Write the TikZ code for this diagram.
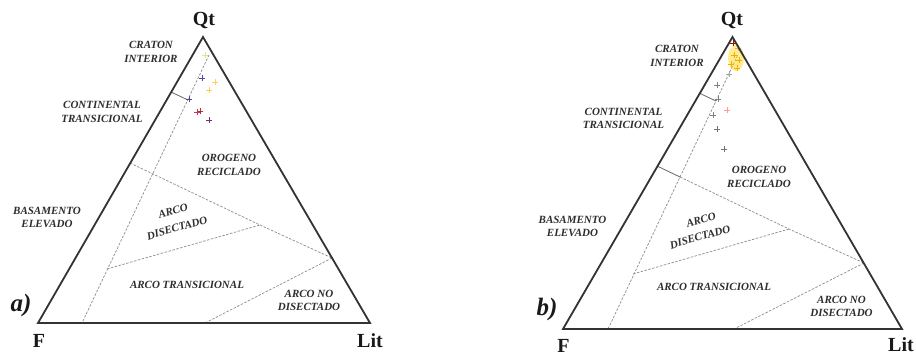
\documentclass[tikz,border=0pt]{standalone}
\usepackage{fontspec}
\setmainfont{Liberation Serif}
\newcommand\pmark[3]{\draw[#3, line width=0.9pt] (#1,#2) +(-3,0) -- +(3,0) +(0,-3) -- +(0,3);}
\begin{document}
\begin{tikzpicture}[x=1pt,y=-1pt,
  edge/.style={line width=1.8pt, draw=black!80, line join=miter},
  bnd/.style={line width=0.7pt, draw=black!45, dash pattern=on 2.5pt off 1.5pt},
  tickline/.style={line width=0.8pt, draw=black!60},
  field/.style={font=\fontsize{11}{13.5}\selectfont\bfseries\itshape, text=black!82, align=center, inner sep=0pt},
  vert/.style={font=\fontsize{20}{22}\selectfont\bfseries, text=black!90, inner sep=0pt},
  panel/.style={font=\fontsize{25}{27}\selectfont\bfseries\itshape, text=black!90, inner sep=0pt},
]
\useasboundingbox (0,0) rectangle (916,356);
\fill[white] (0,0) rectangle (916,356);

% ---------------- panel a ----------------
\coordinate (aF) at (38,323);
\coordinate (aL) at (370,323);
\coordinate (aQ) at (203,37);
\coordinate (aV1) at (209,55);
\coordinate (aV2) at (82,323);
\coordinate (aT1) at (171,92);
\coordinate (aT2) at (188,100);
\coordinate (aO1) at (130,163);
\coordinate (aO2) at (260,225);
\coordinate (aO3) at (332,258);
\coordinate (aD1) at (107,269);
\coordinate (aN2) at (205,323);

\draw[bnd] (aV1) -- (aV2);
\draw[bnd] (aO1) -- (aO2) -- (aO3);
\draw[bnd] (aD1) -- (aO2);
\draw[bnd] (aO3) -- (aN2);
\draw[tickline] (aT1) -- (aT2);
\draw[edge] (aF) -- (aL) -- (aQ) -- cycle;

\pmark{205}{55}{yellow!60!green!45}
\pmark{202}{78}{blue!45!black!70}
\pmark{215}{82}{orange!50!yellow!70}
\pmark{209}{90}{orange!50!yellow!70}
\pmark{189}{99}{blue!40!black!70}
\pmark{197}{112}{purple!80}
\pmark{200}{111}{red!60!black!80}
\pmark{209}{120}{violet!60!black!80}

\node[vert] (aQt) at (204,20) {Qt};
\node[vert] (aFl) at (39,341) {F};
\node[vert] (aLl) at (370,341) {Lit};
\node[panel] (aP) at (21,305) {a)};

\node[field] (a1) at (151,52) {CRATON\\INTERIOR};
\node[field] (a2) at (102,112) {CONTINENTAL\\TRANSICIONAL};
\node[field] (a3) at (229,165) {OROGENO\\RECICLADO};
\node[field] (a4) at (47,217.5) {BASAMENTO\\ELEVADO};
\node[field, rotate=16] (a5) at (173,211) {ARCO};
\node[field, rotate=16] (a5b) at (177,228) {DISECTADO};
\node[field] (a6) at (187,285) {ARCO TRANSICIONAL};
\node[field] (a7) at (309,300.5) {ARCO NO\\DISECTADO};

% ---------------- panel b ----------------
\coordinate (bF) at (563,329);
\coordinate (bL) at (902,329);
\coordinate (bQ) at (732.5,37);
\coordinate (bV1) at (737.6,55.4);
\coordinate (bV2) at (608,329);
\coordinate (bT1) at (699,93);
\coordinate (bT2) at (716,101);
\coordinate (bO1) at (657,166);
\coordinate (bX) at (680,177);
\coordinate (bO2) at (789,229);
\coordinate (bO3) at (864,263);
\coordinate (bD1) at (633,274);
\coordinate (bN2) at (734,329);

\draw[bnd] (bV1) -- (bV2);
\draw[bnd] (bX) -- (bO2) -- (bO3);
\draw[bnd] (bD1) -- (bO2);
\draw[bnd] (bO3) -- (bN2);
\draw[tickline] (bT1) -- (bT2);
\draw[tickline] (bO1) -- (bX);

\fill[yellow!75!orange, opacity=0.45] (736,58) ellipse [x radius=8, y radius=13];
\pmark{733}{43}{red!70!black}
\pmark{738}{48}{red!40}
\pmark{734}{55}{orange!70!yellow}
\pmark{739}{60}{orange!70!yellow}
\pmark{731}{64}{orange!70!yellow}
\pmark{737}{68}{orange!70!yellow}
\pmark{729}{74}{black!35}
\pmark{717}{85}{black!50}
\pmark{718}{99}{black!50}
\pmark{727}{110}{red!40}
\pmark{713}{115}{black!50}
\pmark{717}{129}{black!55}
\pmark{724}{149}{black!55}

\draw[edge] (bF) -- (bL) -- (bQ) -- cycle;

\node[vert] (bQt) at (732,20) {Qt};
\node[vert] (bFl) at (563.5,345.5) {F};
\node[vert] (bLl) at (901,344.5) {Lit};
\node[panel] (bP) at (547,309) {b)};

\node[field] (b1) at (677,56) {CRATON\\INTERIOR};
\node[field] (b2) at (623.5,118.5) {CONTINENTAL\\TRANSICIONAL};
\node[field] (b3) at (759,177) {OROGENO\\RECICLADO};
\node[field] (b4) at (572.5,226.5) {BASAMENTO\\ELEVADO};
\node[field, rotate=16] (b5) at (701,220) {ARCO};
\node[field, rotate=16] (b5b) at (700,237) {DISECTADO};
\node[field] (b6) at (714,287) {ARCO TRANSICIONAL};
\node[field] (b7) at (841.5,306.5) {ARCO NO\\DISECTADO};
\end{tikzpicture}
\end{document}
